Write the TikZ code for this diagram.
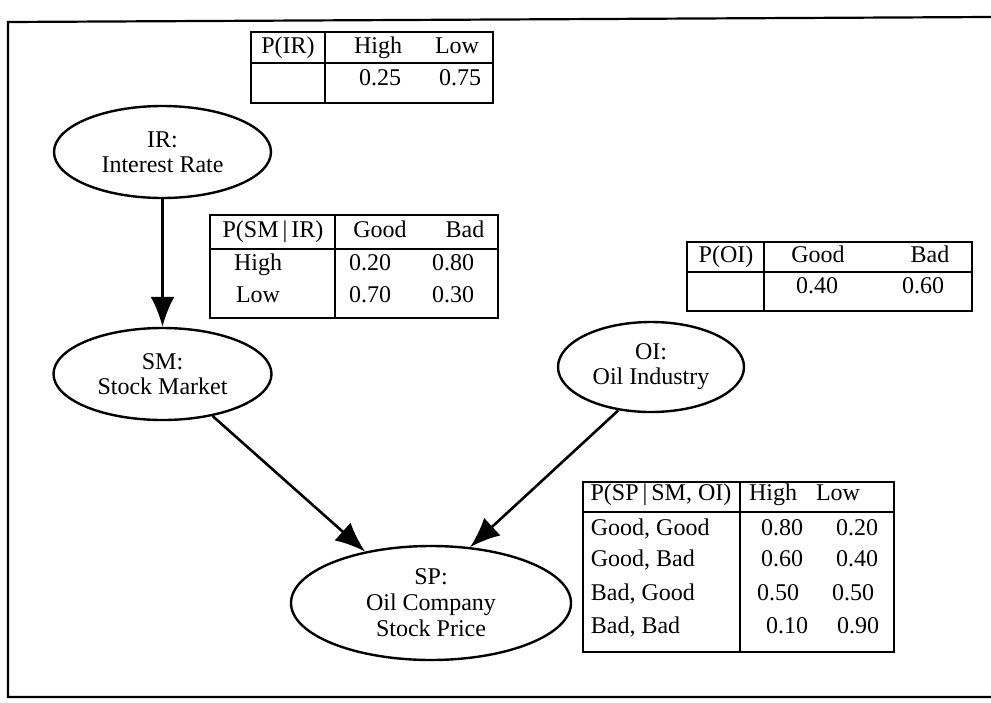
\documentclass[tikz,border=0pt]{standalone}
\usepackage{fontspec}
\setmainfont{Liberation Serif}
\usetikzlibrary{shapes.geometric,arrows.meta}

\begin{document}
\begin{tikzpicture}[x=0.5pt,y=-0.5pt,line width=0.9pt,
    font=\fontsize{12}{12.5}\selectfont,
    var/.style={draw,ellipse,line width=1.2pt,inner sep=0pt,align=center},
    arr/.style={-{Latex[length=15pt,width=12pt]},line width=1.3pt},
    cell/.style={inner sep=0pt,text height=8pt,text depth=2.5pt}]
  \useasboundingbox (0,0) rectangle (991,702);
  % --- frame ---
  \draw[line width=1.1pt] (991,17) -- (8,22) -- (8,697) -- (991,697);
  % --- variables ---
  \node[var,minimum width=108.5pt,minimum height=46pt] (ir) at (162.5,152) {IR:\\Interest Rate};
  \node[var,minimum width=109pt,minimum height=46pt] (sm) at (162.5,374) {SM:\\Stock Market};
  \node[var,minimum width=93pt,minimum height=45pt] (oi) at (651,367) {OI:\\Oil Industry};
  \node[var,minimum width=140pt,minimum height=57pt,font=\fontsize{12}{13}\selectfont] (sp) at (431,603) {SP:\\Oil Company\\Stock Price};
  % --- arcs ---
  \draw[arr] (ir) -- (sm);
  \draw[arr] (sm.320) -- (sp.142);
  \draw[arr] (oi.233) -- (sp.55);
  % --- P(IR) ---
  \draw (251,32) rectangle (493,103);
  \draw (251,63) -- (493,63); \draw (325,32) -- (325,103);
  \node[cell] (irt) at (288,48) {P(IR)};
  \node[cell] (irh) at (378,48) {High};
  \node[cell] (irl) at (457,48) {Low};
  \node[cell] (irh1) at (380,80) {0.25};
  \node[cell] (irl1) at (460,80) {0.75};
  % --- P(SM | IR) ---
  \draw (210,215) rectangle (498,318);
  \draw (210,249) -- (498,249); \draw (335,215) -- (335,318);
  \node[cell] (smt) at (273,232) {P(SM\,|\,IR)};
  \node[cell] (smg) at (380,232) {Good};
  \node[cell] (smb) at (465,232) {Bad};
  \node[cell] (smr1) at (258,265) {High};
  \node[cell] (smr2) at (258,297) {Low};
  \node[cell] (smg1) at (370,265) {0.20};
  \node[cell] (smb1) at (453,265) {0.80};
  \node[cell] (smg2) at (370,297) {0.70};
  \node[cell] (smb2) at (453,297) {0.30};
  % --- P(OI) ---
  \draw (687,242) rectangle (972,311);
  \draw (687,272) -- (972,272); \draw (764,242) -- (764,311);
  \node[cell] (oit) at (726,257) {P(OI)};
  \node[cell] (oig) at (818,257) {Good};
  \node[cell] (oib) at (930,257) {Bad};
  \node[cell] (oig1) at (817,288) {0.40};
  \node[cell] (oib1) at (923,288) {0.60};
  % --- P(SP | SM, OI) ---
  \draw (583,482) rectangle (894,652);
  \draw (583,512) -- (894,512); \draw (740,482) -- (740,652);
  \node[cell] (spt) at (661,495) {P(SP\,|\,SM, OI)};
  \node[cell] (sph) at (773,495) {High};
  \node[cell] (spl) at (838,495) {Low};
  \node[cell,anchor=west] (spr1) at (590,530) {Good, Good};
  \node[cell,anchor=west] (spr2) at (590,561) {Good, Bad};
  \node[cell,anchor=west] (spr3) at (590,595) {Bad, Good};
  \node[cell,anchor=west] (spr4) at (590,628) {Bad, Bad};
  \node[cell] (sph1) at (782,530) {0.80};
  \node[cell] (spl1) at (857,530) {0.20};
  \node[cell] (sph2) at (782,561) {0.60};
  \node[cell] (spl2) at (857,561) {0.40};
  \node[cell] (sph3) at (778,595) {0.50};
  \node[cell] (spl3) at (853,595) {0.50};
  \node[cell] (sph4) at (787,628) {0.10};
  \node[cell] (spl4) at (858,628) {0.90};
\end{tikzpicture}
\end{document}
